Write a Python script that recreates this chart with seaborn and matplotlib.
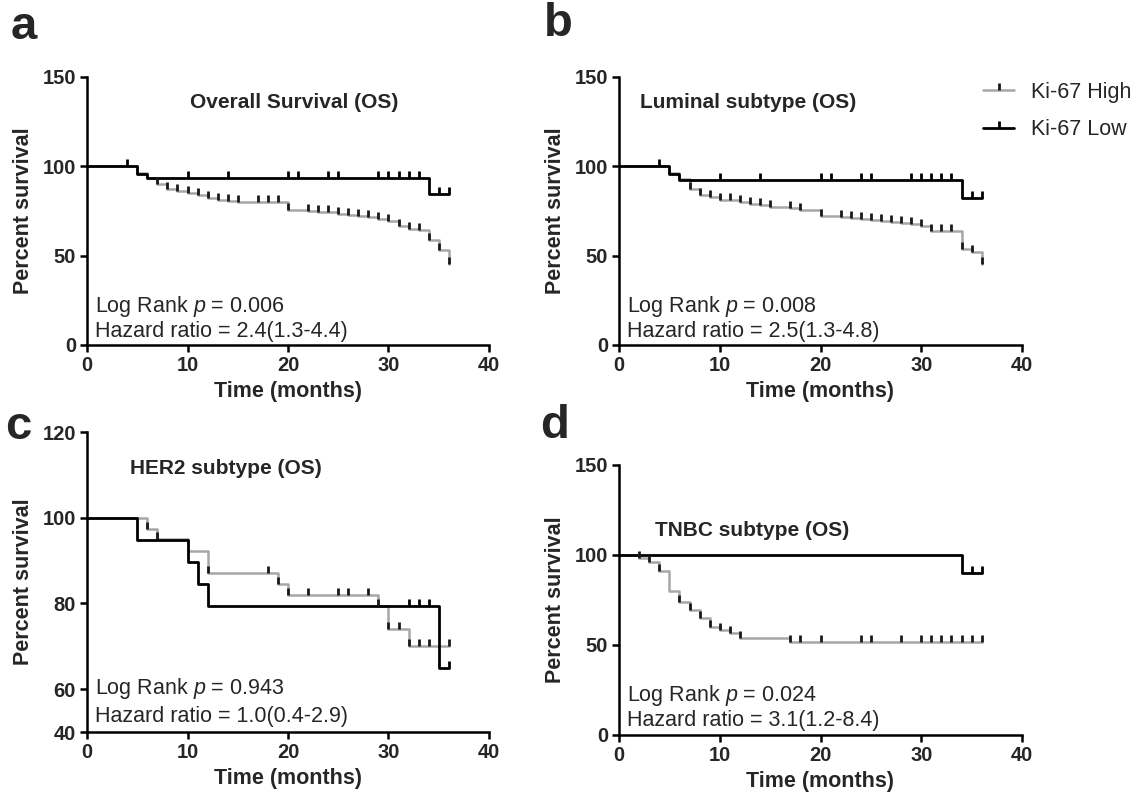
import matplotlib
matplotlib.use('Agg')
import matplotlib.pyplot as plt
import seaborn as sns
import pandas as pd
import numpy as np
from matplotlib.path import Path
from matplotlib.lines import Line2D

# ---------------- data ----------------
# Panel a: Overall Survival
a_high_t = [0, 5, 6, 7, 8, 9, 10, 11, 12, 13, 14, 15, 20, 22, 23, 24, 25, 26, 27, 28, 29, 30, 31, 32, 33, 34, 35, 36]
a_high_s = [100, 96.5, 93.5, 90.2, 87.4, 86.1, 85.0, 83.7, 82.4, 81.4, 80.5, 79.9, 75.7, 75.2, 74.7, 74.2, 73.6,
            73.0, 72.4, 71.6, 70.5, 69.3, 66.4, 65.0, 64.1, 58.6, 53.4, 45.6]
a_high_c = [7, 8, 9, 10, 11, 12, 13, 14, 15, 17, 18, 19, 20, 22, 23, 24, 25, 26, 27, 28, 29, 30, 31, 32, 33, 34, 35, 36]
a_low_t = [0, 5, 6, 34, 36]
a_low_s = [100, 95.8, 93.5, 84.6, 84.6]
a_low_c = [4, 10, 14, 20, 21, 24, 25, 29, 30, 31, 32, 33, 35, 36]

# Panel b: Luminal subtype
b_high_t = [0, 5, 6, 7, 8, 9, 10, 11, 12, 13, 14, 15, 17, 18, 20, 22, 23, 24, 25, 26, 27, 28, 29, 30, 31, 34, 35, 36]
b_high_s = [100, 96.5, 93.0, 87.4, 84.0, 82.7, 81.4, 80.9, 79.9, 79.0, 78.1, 77.1, 76.4, 75.7, 72.1, 71.7, 71.3,
            70.6, 70.0, 69.4, 68.9, 68.4, 67.8, 66.4, 63.6, 53.9, 52.0, 45.6]
b_high_c = [7, 8, 9, 10, 11, 12, 13, 14, 15, 17, 18, 20, 22, 23, 24, 25, 26, 27, 28, 29, 30, 31, 32, 33, 34, 35, 36]
b_low_t = [0, 5, 6, 34, 36]
b_low_s = [100, 95.8, 92.6, 82.2, 82.2]
b_low_c = [4, 10, 14, 20, 21, 24, 25, 29, 30, 31, 32, 33, 35, 36]

# Panel c: HER2 subtype
c_high_t = [0, 6, 7, 10, 12, 19, 20, 29, 30, 32, 36]
c_high_s = [100, 97.4, 95.0, 92.2, 87.1, 84.5, 82.0, 79.3, 74.1, 70.0, 70.0]
c_high_c = [6, 7, 12, 18, 19, 20, 22, 25, 26, 28, 29, 30, 31, 32, 33, 34, 36]
c_low_t = [0, 5, 10, 11, 12, 35, 36]
c_low_s = [100, 94.8, 89.7, 84.5, 79.5, 65.0, 65.0]
c_low_c = [32, 33, 34, 36]

# Panel d: TNBC subtype
d_high_t = [0, 2, 3, 4, 5, 6, 7, 8, 9, 10, 11, 12, 17, 36]
d_high_s = [100, 98.1, 96.3, 91.3, 80.0, 74.1, 69.4, 64.8, 60.2, 58.3, 56.5, 53.7, 51.5, 51.5]
d_high_c = [2, 3, 4, 6, 7, 8, 9, 10, 11, 12, 17, 18, 20, 24, 25, 28, 30, 31, 32, 33, 34, 35, 36]
d_low_t = [0, 34, 36]
d_low_s = [100, 89.8, 89.8]
d_low_c = [35, 36]

titles = ["Overall Survival (OS)", "Luminal subtype (OS)", "HER2 subtype (OS)", "TNBC subtype (OS)"]
logrank = ["0.006", "0.008", "0.943", "0.024"]
hazard = ["2.4(1.3-4.4)", "2.5(1.3-4.8)", "1.0(0.4-2.9)", "3.1(1.2-8.4)"]
letters = ["a", "b", "c", "d"]
series_labels = ["Ki-67 High", "Ki-67 Low"]
x_ticks = [0, 10, 20, 30, 40]
y_ticks_std = [0, 50, 100, 150]
y_ticks_c = [40, 60, 80, 100, 120]

# ---------------- style ----------------
sns.set_theme(style='ticks')
plt.rcParams['font.family'] = ['Liberation Sans', 'DejaVu Sans']
plt.rcParams['mathtext.fontset'] = 'custom'
plt.rcParams['mathtext.rm'] = 'Liberation Sans'
plt.rcParams['mathtext.it'] = 'Liberation Sans:italic'

GRAY = '#a6a6a6'
BLACK = '#000000'
TICKC = '#1a1a1a'
TICK = Path([(0, 0), (0, 1)])

W, H = 1137, 798
fig = plt.figure(figsize=(W / 100, H / 100), dpi=100)
fig.patch.set_facecolor('white')


def add_ax(l, r, t, b):
    return fig.add_axes([l / W, 1 - b / H, (r - l) / W, (b - t) / H])


def km(ax, t, s, cens, color, lw):
    df = pd.DataFrame({'t': t, 's': s})
    sns.lineplot(data=df, x='t', y='s', ax=ax, drawstyle='steps-post', color=color,
                 linewidth=lw, estimator=None, sort=False, legend=False)
    t_arr = np.asarray(t, dtype=float)
    cy = [s[np.searchsorted(t_arr, c, side='right') - 1] for c in cens]
    ax.plot(cens, cy, linestyle='none', marker=TICK, markersize=10, markeredgewidth=2,
            color=TICKC if color != BLACK else BLACK, zorder=4)


# HER2 panel: lowest axis segment (40-60) drawn at half length, as in the reference
def c_fwd(y):
    y = np.asarray(y, dtype=float)
    return np.where(y >= 60, y, 60 - (60 - y) / 2)


def c_inv(v):
    v = np.asarray(v, dtype=float)
    return np.where(v >= 60, v, 60 - (60 - v) * 2)


panels = [
    (add_ax(87, 489, 77, 345), (a_high_t, a_high_s, a_high_c), (a_low_t, a_low_s, a_low_c), (0, 150), y_ticks_std),
    (add_ax(619, 1022, 77, 345), (b_high_t, b_high_s, b_high_c), (b_low_t, b_low_s, b_low_c), (0, 150), y_ticks_std),
    (add_ax(87, 489, 432, 732), (c_high_t, c_high_s, c_high_c), (c_low_t, c_low_s, c_low_c), (40, 120), y_ticks_c),
    (add_ax(619, 1022, 465, 735), (d_high_t, d_high_s, d_high_c), (d_low_t, d_low_s, d_low_c), (0, 150), y_ticks_std),
]

for i, (ax, hi, lo, ylim, yt) in enumerate(panels):
    if i == 2:
        ax.set_yscale('function', functions=(c_fwd, c_inv))
    km(ax, *hi, GRAY, 1.8)
    km(ax, *lo, BLACK, 2.0)
    ax.set_xlim(0, 40)
    ax.set_ylim(*ylim)
    ax.set_xticks(x_ticks)
    ax.set_yticks(yt)
    ax.set_yticklabels([str(v) for v in yt])
    ax.minorticks_off()
    for sp in ['top', 'right']:
        ax.spines[sp].set_visible(False)
    for sp in ['left', 'bottom']:
        ax.spines[sp].set_linewidth(1.8)
        ax.spines[sp].set_color('black')
        ax.spines[sp].set_capstyle('projecting')
    ax.tick_params(direction='out', length=5, width=1.8, color='black', labelsize=14.5, pad=3)
    for lab in ax.get_xticklabels() + ax.get_yticklabels():
        lab.set_fontweight('bold')
    ax.set_xlabel('Time (months)', fontsize=15.5, fontweight='bold', labelpad=4)
    ax.set_ylabel('Percent survival', fontsize=15.5, fontweight='bold', labelpad=6)
    ax.set_facecolor('white')
    ax.text(0.02, 0.145, 'Log Rank $\\mathit{p}$ = ' + logrank[i], transform=ax.transAxes,
            fontsize=15.5, va='center', ha='left')
    ax.text(0.02, 0.052, 'Hazard ratio = ' + hazard[i], transform=ax.transAxes,
            fontsize=15.5, va='center', ha='left')

# titles
title_pos = [(190, 103), (640, 103), (130, 468), (655, 530)]
for (x, y), t in zip(title_pos, titles):
    fig.text(x / W, 1 - y / H, t, fontsize=15, fontweight='bold', ha='left', va='center')

# panel letters
letter_pos = [(11, 27), (544, 24), (5, 427), (540, 426)]
for (x, y), t in zip(letter_pos, letters):
    fig.text(x / W, 1 - y / H, t, fontsize=34, fontweight='bold', ha='left', va='center')

# legend
handles = [
    Line2D([0], [0], color=GRAY, lw=1.8, marker=TICK, markersize=10, markeredgewidth=2,
           markeredgecolor=TICKC),
    Line2D([0], [0], color=BLACK, lw=2.0, marker=TICK, markersize=10, markeredgewidth=2,
           markeredgecolor=BLACK),
]
fig.legend(handles, series_labels, loc='upper left', bbox_to_anchor=(983 / W, 1 - 82 / H),
           frameon=False, fontsize=15.5, handlelength=1.45, handletextpad=0.8,
           labelspacing=0.75, borderpad=0, borderaxespad=0)

fig.savefig('out.png', dpi=100, facecolor='white')
